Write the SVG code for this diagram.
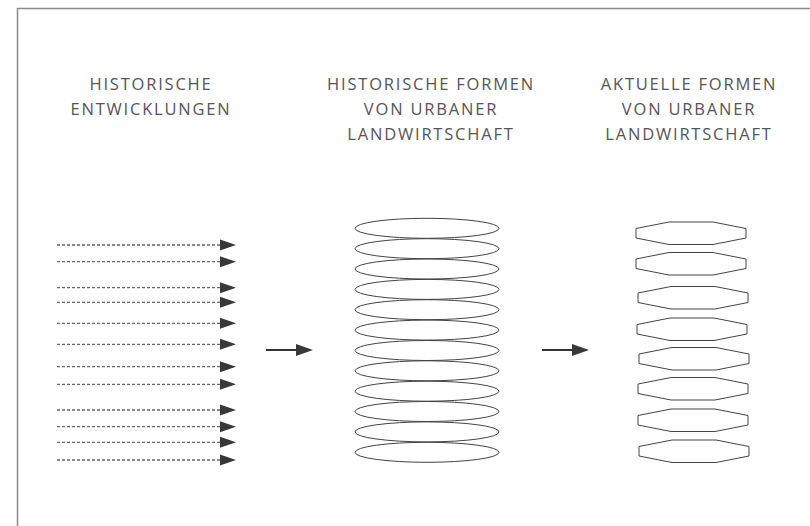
<svg xmlns="http://www.w3.org/2000/svg" width="810" height="526" viewBox="0 0 810 526">
<style>
.lbl{font-family:"Open Sans","Liberation Sans",sans-serif;font-size:16.5px;fill:#555;text-anchor:middle;letter-spacing:1.8px}
.dash{stroke:#666;stroke-width:1.3;stroke-dasharray:3 2;fill:none}
.solid{stroke:#333;stroke-width:2;fill:none}
.ell{fill:none;stroke:#444;stroke-width:1}
.oct{fill:none;stroke:#444;stroke-width:1}
.head{fill:#383838}
</style>
<defs>
<polygon id="octShape" points="0,6.5 33,0 77,0 110,6.5 110,16 77,22.5 33,22.5 0,16"/>
</defs>
<rect x="17.5" y="8.5" width="900" height="600" fill="none" stroke="#8a8a8a" stroke-width="1.5"/>
<g id="label-historische-entwicklungen">
<text class="lbl" x="151" y="90">HISTORISCHE</text>
<text class="lbl" x="151" y="115">ENTWICKLUNGEN</text>
</g>
<g id="label-historische-formen">
<text class="lbl" x="431" y="90">HISTORISCHE FORMEN</text>
<text class="lbl" x="431" y="115">VON URBANER</text>
<text class="lbl" x="431" y="140">LANDWIRTSCHAFT</text>
</g>
<g id="label-aktuelle-formen">
<text class="lbl" x="689" y="90">AKTUELLE FORMEN</text>
<text class="lbl" x="689" y="115">VON URBANER</text>
<text class="lbl" x="689" y="140">LANDWIRTSCHAFT</text>
</g>
<g id="connectors">
<g id="dashed-arrows">
<line class="dash" x1="57" y1="245" x2="221" y2="245"/><polygon class="head" points="220,239.5 236,245 220,250.5"/>
<line class="dash" x1="57" y1="261.7" x2="221" y2="261.7"/><polygon class="head" points="220,256.2 236,261.7 220,267.2"/>
<line class="dash" x1="57" y1="287.7" x2="221" y2="287.7"/><polygon class="head" points="220,282.2 236,287.7 220,293.2"/>
<line class="dash" x1="57" y1="302.3" x2="221" y2="302.3"/><polygon class="head" points="220,296.8 236,302.3 220,307.8"/>
<line class="dash" x1="57" y1="323.3" x2="221" y2="323.3"/><polygon class="head" points="220,317.8 236,323.3 220,328.8"/>
<line class="dash" x1="57" y1="344.3" x2="221" y2="344.3"/><polygon class="head" points="220,338.8 236,344.3 220,349.8"/>
<line class="dash" x1="57" y1="366.7" x2="221" y2="366.7"/><polygon class="head" points="220,361.2 236,366.7 220,372.2"/>
<line class="dash" x1="57" y1="384.3" x2="221" y2="384.3"/><polygon class="head" points="220,378.8 236,384.3 220,389.8"/>
<line class="dash" x1="57" y1="410" x2="221" y2="410"/><polygon class="head" points="220,404.5 236,410 220,415.5"/>
<line class="dash" x1="57" y1="426.7" x2="221" y2="426.7"/><polygon class="head" points="220,421.2 236,426.7 220,432.2"/>
<line class="dash" x1="57" y1="442.3" x2="221" y2="442.3"/><polygon class="head" points="220,436.8 236,442.3 220,447.8"/>
<line class="dash" x1="57" y1="460" x2="221" y2="460"/><polygon class="head" points="220,454.5 236,460 220,465.5"/>
</g>
<line class="solid" x1="266" y1="350" x2="298" y2="350"/><polygon class="head" points="296,344 313,350 296,356"/>
<line class="solid" x1="542" y1="350" x2="574" y2="350"/><polygon class="head" points="572,344 589,350 572,356"/>
</g>
<g id="historic-forms">
<ellipse class="ell" cx="427" cy="228.3" rx="72" ry="10"/>
<ellipse class="ell" cx="427" cy="248.7" rx="72" ry="10"/>
<ellipse class="ell" cx="427" cy="269" rx="72" ry="10"/>
<ellipse class="ell" cx="427" cy="289.4" rx="72" ry="10"/>
<ellipse class="ell" cx="427" cy="309.7" rx="72" ry="10"/>
<ellipse class="ell" cx="427" cy="330.1" rx="72" ry="10"/>
<ellipse class="ell" cx="427" cy="350.5" rx="72" ry="10"/>
<ellipse class="ell" cx="427" cy="370.8" rx="72" ry="10"/>
<ellipse class="ell" cx="427" cy="391.2" rx="72" ry="10"/>
<ellipse class="ell" cx="427" cy="411.5" rx="72" ry="10"/>
<ellipse class="ell" cx="427" cy="431.9" rx="72" ry="10"/>
<ellipse class="ell" cx="427" cy="452.3" rx="72" ry="10"/>
</g>
<g id="current-forms">
<use href="#octShape" class="oct" x="636" y="222"/>
<use href="#octShape" class="oct" x="636" y="252.5"/>
<use href="#octShape" class="oct" x="638" y="286.5"/>
<use href="#octShape" class="oct" x="637" y="318"/>
<use href="#octShape" class="oct" x="639" y="347.5"/>
<use href="#octShape" class="oct" x="638" y="377.5"/>
<use href="#octShape" class="oct" x="638" y="409"/>
<use href="#octShape" class="oct" x="639" y="440"/>
</g>
</svg>
